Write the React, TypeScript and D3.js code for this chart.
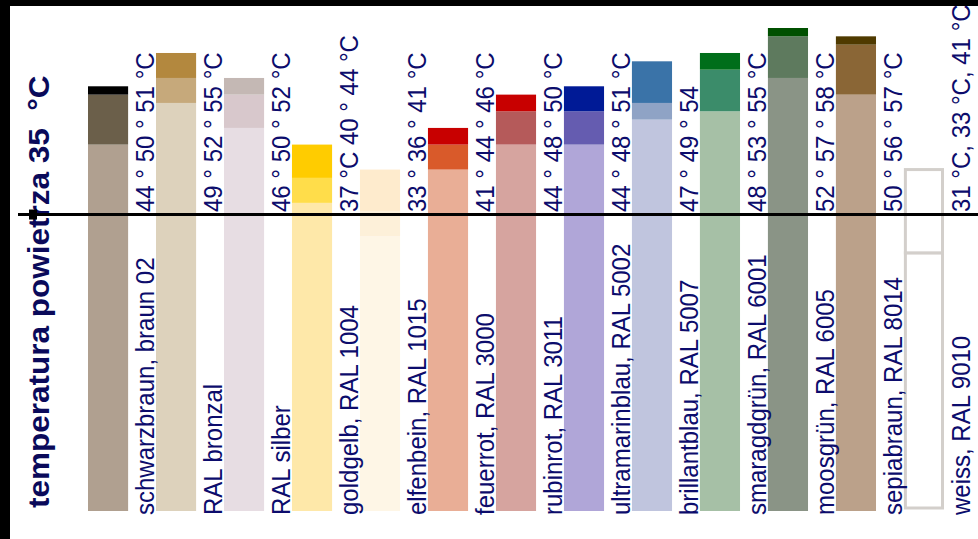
import React from 'react';
import * as d3 from 'd3';

const W = 978;
const H = 539;

const coatings = [
  'schwarzbraun, braun 02',
  'RAL bronzal',
  'RAL silber',
  'goldgelb, RAL 1004',
  'elfenbein, RAL 1015',
  'feuerrot, RAL 3000',
  'rubinrot, RAL 3011',
  'ultramarinblau, RAL 5002',
  'brillantblau, RAL 5007',
  'smaragdgrün, RAL 6001',
  'moosgrün, RAL 6005',
  'sepiabraun, RAL 8014',
  'weiss, RAL 9010',
];

// surface temperatures in °C, three readings per coating
const tempLow = [44, 49, 46, 37, 33, 41, 44, 44, 47, 48, 52, 50, 31];
const tempMid = [50, 52, 50, 40, 36, 44, 48, 48, 49, 53, 57, 56, 33];
const tempHigh = [51, 55, 52, 44, 41, 46, 50, 51, 54, 55, 58, 57, 41];

const tempLabels = [
  '44 ° 50 ° 51 °C',
  '49 ° 52 ° 55 °C',
  '46 ° 50 ° 52 °C',
  '37 °C 40 ° 44 °C',
  '33 ° 36 ° 41 °C',
  '41 ° 44 ° 46 °C',
  '44 ° 48 ° 50 °C',
  '44 ° 48 ° 51 °C',
  '47 ° 49 ° 54',
  '48 ° 53 ° 55 °C',
  '52 ° 57 ° 58 °C',
  '50 ° 56 ° 57 °C',
  '31 °C, 33 °C, 41 °C',
];

const airTemp = 35;
const refLine = 35.6; // where the black line sits on the bar scale

// colours, bottom / middle / top segment
const colorLight = ['#b0a090', '#ddd2bc', '#e7dde3', '#fee8a9', '#fef6e6', '#e9ae96', '#d6a49f', '#b0a6d8', '#c0c5de', '#a6c0a6', '#8a9486', '#bba18a', '#ffffff'];
const colorMid = ['#6b5f4a', '#c6a97b', '#d8c8cc', '#ffdd4a', '#fdf0d9', '#d95a2a', '#b55a5a', '#655cb0', '#8fa3c5', '#3b8c6a', '#5e7a5e', '#8a6636', '#ffffff'];
const colorDark = ['#000000', '#b3883e', '#c4b8b4', '#ffcc00', '#feebcd', '#c80000', '#c80000', '#001a96', '#3a73a8', '#006e1a', '#005000', '#4f3a00', '#ffffff'];

const textColor = '#0c0c6c';
const font = '"Liberation Sans", Arial, Helvetica, sans-serif';

export default function App() {
  const x = d3.scaleBand<string>().domain(coatings).range([88, 944]).paddingInner(0.41).paddingOuter(0);
  const y = d3.scaleLinear().domain([0, 58]).range([511, 28]);
  const bw = x.bandwidth();
  const labelOffset = 66;
  // glyphs in the original are a bit taller across than along the text
  const squash = 'scale(0.98,1.06)';

  return (
    <div style={{ position: 'fixed', left: 0, top: 0 }}>
      <svg width={W} height={H} style={{ display: 'block', background: '#fff' }}>
        {coatings.map((c, i) => {
          const x0 = x(c)!;
          const outlined = colorLight[i] === '#ffffff';
          if (outlined) {
            const segs = [[0, tempLow[i]], [tempLow[i], tempHigh[i]]];
            return (
              <g key={c}>
                {segs.map(([a, b], j) => (
                  <rect key={j} x={x0 + 1.5} y={y(b)} width={bw - 3} height={y(a) - y(b) - (j === 0 ? 3 : 0)}
                    fill="#fff" stroke="#d3cfcb" strokeWidth={3} />
                ))}
              </g>
            );
          }
          const segs = [
            [0, tempLow[i], colorLight[i]],
            [tempLow[i], tempMid[i], colorMid[i]],
            [tempMid[i], tempHigh[i], colorDark[i]],
          ] as [number, number, string][];
          return (
            <g key={c}>
              {segs.map(([a, b, col], j) => (
                <rect key={j} x={x0} y={y(b)} width={bw} height={y(a) - y(b)} fill={col} />
              ))}
            </g>
          );
        })}

        {coatings.map((c, i) => {
          const lx = x(c)! + labelOffset;
          return (
            <g key={'l' + c} fill={textColor} fontFamily={font} fontSize={24.5}>
              <text transform={`translate(${lx},515) rotate(-90) ${squash}`}>{c}</text>
              <text transform={`translate(${lx},212) rotate(-90) ${squash}`}>{tempLabels[i]}</text>
            </g>
          );
        })}

        <text transform="translate(49,508) rotate(-90) scale(1,0.96)" fill="#0a0a5a" fontFamily={font}
          fontSize={31.5} fontWeight="bold">{`temperatura powietrza ${airTemp} \u00a0°C`}</text>

        <line x1={18} x2={W} y1={y(refLine)} y2={y(refLine)} stroke="#000" strokeWidth={3} />
        <rect x={29} y={y(refLine) - 5} width={8} height={10} fill="#000" />

        <rect x={0} y={0} width={W} height={6} fill="#000" />
        <rect x={0} y={0} width={10} height={H} fill="#000" />
      </svg>
    </div>
  );
}
